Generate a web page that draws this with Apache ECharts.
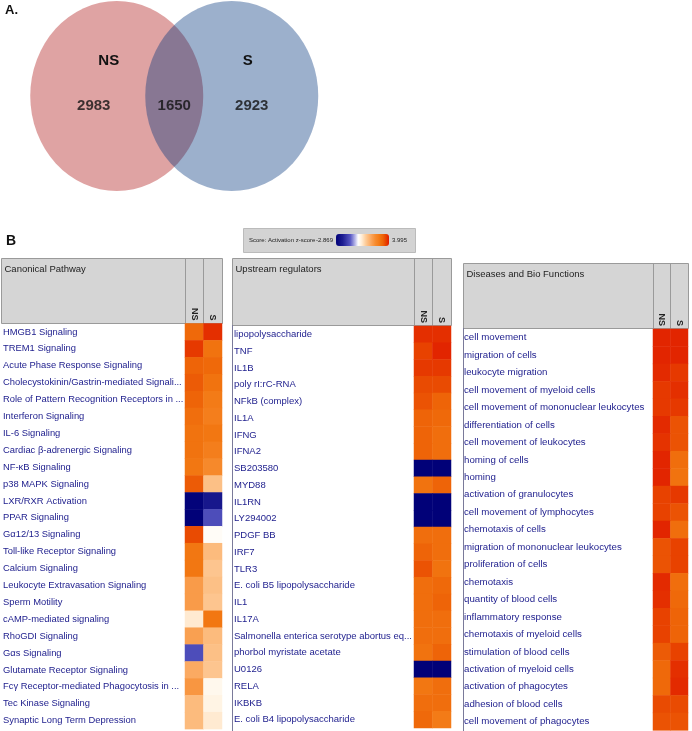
<!DOCTYPE html>
<html><head><meta charset="utf-8">
<script src="https://cdn.jsdelivr.net/npm/echarts@6/dist/echarts.min.js"></script>
<style>html,body{margin:0;padding:0;background:#fff}#c{width:692px;height:731px}</style>
</head><body><div id="c"></div>
<script>
// ---------- DATA ----------
const vennSets = ['NS', 'NS∩S', 'S'];
const vennCounts = [2983, 1650, 2923];
const conditions = ['NS', 'S'];
const zMin = -2.869, zMax = 3.995;

const pathways = ['HMGB1 Signaling','TREM1 Signaling','Acute Phase Response Signaling','Cholecystokinin/Gastrin-mediated Signali...','Role of Pattern Recognition Receptors in ...','Interferon Signaling','IL-6 Signaling','Cardiac β-adrenergic Signaling','NF-κB Signaling','p38 MAPK Signaling','LXR/RXR Activation','PPAR Signaling','Gα12/13 Signaling','Toll-like Receptor Signaling','Calcium Signaling','Leukocyte Extravasation Signaling','Sperm Motility','cAMP-mediated signaling','RhoGDI Signaling','Gαs Signaling','Glutamate Receptor Signaling','Fcγ Receptor-mediated Phagocytosis in ...','Tec Kinase Signaling','Synaptic Long Term Depression'];
const pathwayNS = [3.1,3.7,3.2,3.3,3.2,3.0,2.9,2.9,2.8,3.3,-2.8,-2.85,3.5,2.8,2.8,1.9,1.9,0.5,1.8,-1.2,1.6,2.0,1.3,1.3];
const pathwayS  = [3.8,2.9,3.1,2.9,2.7,2.6,2.8,2.6,2.3,1.2,-2.2,-1.2,0.1,1.3,1.1,1.2,1.1,2.8,1.3,1.2,1.1,0.2,0.3,0.5];

const regulators = ['lipopolysaccharide','TNF','IL1B','poly rI:rC-RNA','NFkB (complex)','IL1A','IFNG','IFNA2','SB203580','MYD88','IL1RN','LY294002','PDGF BB','IRF7','TLR3','E. coli B5 lipopolysaccharide','IL1','IL17A','Salmonella enterica serotype abortus eq...','phorbol myristate acetate','U0126','RELA','IKBKB','E. coli B4 lipopolysaccharide'];
const regulatorNS = [3.8,3.6,3.7,3.5,3.4,3.2,3.2,3.2,-2.85,2.9,-2.85,-2.85,3.0,3.2,3.4,3.0,3.0,3.0,3.0,2.9,-2.85,2.8,3.0,3.1];
const regulatorS  = [3.8,3.9,3.7,3.5,3.2,3.1,3.0,3.0,-2.85,3.2,-2.85,-2.85,3.0,3.0,2.9,3.1,3.2,3.0,3.0,3.2,-2.85,3.0,3.0,2.7];

const bioFunctions = ['cell movement','migration of cells','leukocyte migration','cell movement of myeloid cells','cell movement of mononuclear leukocytes','differentiation of cells','cell movement of leukocytes','homing of cells','homing','activation of granulocytes','cell movement of lymphocytes','chemotaxis of cells','migration of mononuclear leukocytes','proliferation of cells','chemotaxis','quantity of blood cells','inflammatory response','chemotaxis of myeloid cells','stimulation of blood cells','activation of myeloid cells','activation of phagocytes','adhesion of blood cells','cell movement of phagocytes'];
const functionNS = [3.9,3.9,3.85,3.7,3.7,3.85,3.75,3.9,3.9,3.6,3.6,3.9,3.4,3.4,3.85,3.8,3.6,3.6,3.3,3.1,3.1,3.5,3.4];
const functionS  = [3.9,3.9,3.7,3.8,3.7,3.4,3.4,3.0,2.9,3.7,3.4,3.0,3.6,3.6,3.0,3.1,3.2,3.2,3.6,3.8,3.85,3.5,3.4];

// ---------- STYLE HELPERS ----------
const anchors = [
  [-2.869,[0,0,120]],[-2.0,[30,30,146]],[-1.0,[88,88,196]],[-0.3,[200,200,238]],[0,[255,255,255]],
  [0.4,[255,240,220]],[1.0,[253,203,152]],[1.6,[251,170,98]],[2.2,[247,140,48]],[2.8,[242,120,18]],
  [3.2,[238,100,8]],[3.6,[232,66,0]],[3.995,[224,28,0]]
];
function colAt(v){
  for(let i=0;i<anchors.length-1;i++){
    const [a,ca]=anchors[i],[b,cb]=anchors[i+1];
    if(v<=b){const t=(v-a)/(b-a);return 'rgb('+ca.map((c,k)=>Math.round(c+(cb[k]-c)*t)).join(',')+')';}
  }
  return 'rgb(224,28,0)';
}
const stops=[];for(let k=0;k<90;k++){stops.push(colAt(zMin+k*(zMax-zMin)/89));}

function cells(ns,s){const d=[];ns.forEach((v,i)=>{d.push([0,i,v]);d.push([1,i,s[i]]);});return d;}

const labelFont = "'Liberation Sans',Arial,sans-serif";
const panels = [
  {labels:pathways, ns:pathwayNS, s:pathwayS, left:185, width:37, top:323.5, rowH:16.9, textX:3, fs:9.4},
  {labels:regulators, ns:regulatorNS, s:regulatorS, left:414, width:37, top:326, rowH:16.75, textX:234, fs:9.5},
  {labels:bioFunctions, ns:functionNS, s:functionS, left:653, width:35, top:329, rowH:17.45, textX:464, fs:9.7}
];

const grids=[],xAxes=[],yAxes=[],series=[];
panels.forEach((p,i)=>{
  grids.push({left:p.left, top:p.top, width:p.width, height:p.rowH*p.labels.length});
  xAxes.push({type:'category', gridIndex:i, data:conditions, position:'top',
    axisLine:{show:false}, axisTick:{show:false}, splitLine:{show:false},
    axisLabel:{rotate:90, margin:3, fontSize:9, fontWeight:'bold', color:'#222', fontFamily:labelFont}});
  yAxes.push({type:'category', gridIndex:i, data:p.labels, inverse:true,
    axisLine:{show:false}, axisTick:{show:false}, splitLine:{show:false},
    axisLabel:{interval:0, align:'left', margin:p.left-p.textX, fontSize:p.fs, color:'#1c1c8c', fontFamily:labelFont}});
  series.push({type:'heatmap', xAxisIndex:i, yAxisIndex:i, data:cells(p.ns,p.s),
    itemStyle:{borderWidth:0}, emphasis:{disabled:true}, animation:false});
});

// Venn grid
grids.push({left:88, top:1, width:172.5, height:190});
xAxes.push({type:'category', gridIndex:3, data:vennSets, show:false});
yAxes.push({type:'value', gridIndex:3, min:-1, max:1, show:false});
const vennLabel = {show:true, fontSize:15, fontWeight:'bold', color:'#111', fontFamily:'Liberation Sans, Arial'};
series.push({type:'scatter', xAxisIndex:3, yAxisIndex:3, symbol:'circle', symbolSize:[173,190], silent:true,
  itemStyle:{color:'rgb(223,163,163)', opacity:1},
  data:[{value:[vennSets[0],0], label:Object.assign({}, vennLabel, {formatter:vennSets[0], position:'inside', offset:[-8,-35]})}]});
series.push({type:'scatter', xAxisIndex:3, yAxisIndex:3, symbol:'circle', symbolSize:[173,190], silent:true,
  itemStyle:{color:'rgba(0,52,124,0.39)', opacity:1},
  data:[{value:[vennSets[2],0], label:Object.assign({}, vennLabel, {formatter:vennSets[2], position:'inside', offset:[16,-35]})}]});
const countOffsets=[[-23,10],[0,10],[20,10]];
series.push({type:'scatter', xAxisIndex:3, yAxisIndex:3, symbolSize:0, silent:true, z:5,
  data:vennSets.map((s,i)=>({value:[s,0,vennCounts[i]], label:Object.assign({}, vennLabel, {formatter:String(vennCounts[i]), position:'inside', offset:countOffsets[i]})}))});

// ---------- DECORATION ----------
const headerFill='#d5d5d5', lineCol='#9a9a9a';
function header(x,y,w,h,c1,c2,title){
  return [
    {type:'rect', shape:{x:x,y:y,width:w,height:h}, style:{fill:headerFill, stroke:lineCol, lineWidth:1}, z:0},
    {type:'line', shape:{x1:c1,y1:y,x2:c1,y2:y+h}, style:{stroke:lineCol, lineWidth:1}, z:1},
    {type:'line', shape:{x1:c2,y1:y,x2:c2,y2:y+h}, style:{stroke:lineCol, lineWidth:1}, z:1},
    {type:'text', left:x+3, top:y+6, style:{text:title, fontSize:9.5, fill:'#222', fontFamily:labelFont}, z:2}
  ];
}
const graphics = [].concat(
  header(1.5,258.5,221,65,185.5,203.5,'Canonical Pathway'),
  header(232.5,258.5,219,67,414.5,432.5,'Upstream regulators'),
  header(463.5,263.5,225,65,653.5,670.5,'Diseases and Bio Functions'),
  [
    {type:'line', shape:{x1:232.5,y1:325,x2:232.5,y2:731}, style:{stroke:'#7a7a9a', lineWidth:1}},
    {type:'line', shape:{x1:463.5,y1:328,x2:463.5,y2:731}, style:{stroke:'#7a7a9a', lineWidth:1}},
    {type:'rect', shape:{x:243.5,y:228.5,width:172,height:24}, style:{fill:'#d3d3d3', stroke:'#bbbbbb'}, z:0},
    {type:'text', left:249, top:237, style:{text:'Score: Activation z-score', fontSize:6, fill:'#222', fontFamily:'Liberation Sans, Arial'}, z:2},
    {type:'text', left:5, top:4, style:{text:'A.', fontSize:13, fontWeight:'bold', fill:'#111', fontFamily:'Liberation Sans, Arial'}},
    {type:'text', left:6, top:234, style:{text:'B', fontSize:14, fontWeight:'bold', fill:'#111', fontFamily:'Liberation Sans, Arial'}}
  ]
);

const chart = echarts.init(document.getElementById('c'), null, {renderer:'canvas'});
chart.setOption({
  animation:false,
  backgroundColor:'#ffffff',
  grid:grids, xAxis:xAxes, yAxis:yAxes, series:series,
  visualMap:{type:'continuous', min:zMin, max:zMax, seriesIndex:[0,1,2], orient:'horizontal',
    left:301, top:219, itemWidth:12, itemHeight:53, calculable:false, text:['3.995','-2.869'], textGap:3,
    textStyle:{fontSize:6, color:'#222', fontFamily:'Liberation Sans, Arial'},
    inRange:{color:stops}, z:5},
  graphic:graphics
});
</script></body></html>
